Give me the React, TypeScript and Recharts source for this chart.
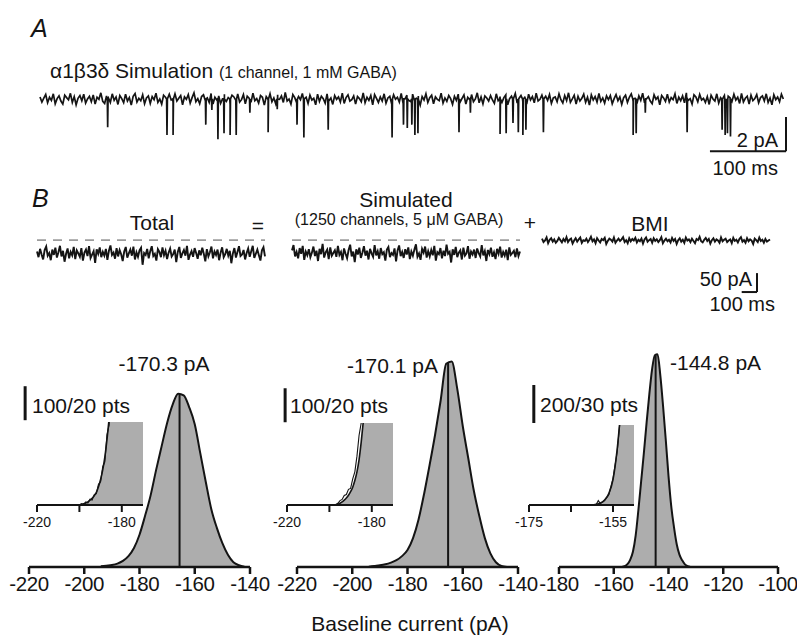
import React from "react";
import { ComposedChart, LineChart, Line, Area, XAxis, YAxis, ReferenceLine } from "recharts";

const FONT = '"Liberation Sans", Arial, Helvetica, sans-serif';
const INK = "#141414";
const FILL = "#adadad";

// ---------- panel A: single channel simulation (pA, 2.5 ms steps) ----------
const traceAStepMs = 2.5;
const traceANoise = [
  0.12, -0.18, 0.05, 0.26, -0.22, 0.1, -0.08, 0.3, -0.28, 0.02, 0.18, -0.12, -0.3, 0.22,
  0.08, -0.05, 0.33, -0.2, 0.14, -0.34, 0.04, 0.2, -0.1, 0.28, -0.24, 0.0, 0.16, -0.16,
  0.24, -0.3, 0.1, -0.02, 0.36, -0.14, -0.26, 0.18, 0.06, -0.2, 0.3, -0.08, 0.12, -0.32,
  0.2, 0.02, -0.22, 0.28, -0.12, 0.08, -0.36, 0.16, 0.32, -0.18, 0.04, -0.1, 0.24, -0.28,
  0.06, 0.18, -0.26, 0.14, -0.04, 0.34, -0.2, 0.0, -0.3, 0.22, 0.1, -0.14, 0.28, -0.06,
  -0.22, 0.3, -0.12, 0.04, 0.2, -0.34, 0.12, -0.02, 0.26, -0.24, 0.08, 0.36, -0.16, 0.02,
  -0.28, 0.14, 0.24, -0.1, 0.06, -0.2, 0.32, -0.3, 0.1, -0.06, 0.18, -0.26, 0.0, 0.28,
  -0.14, 0.08, -0.32, 0.22, 0.12, -0.08, 0.3, -0.18, -0.04, 0.26, -0.28, 0.16, 0.04, -0.2,
  0.34, -0.1, 0.02, -0.24, 0.2, 0.1, -0.36, 0.14, -0.06, 0.3, -0.16, 0.06, -0.28, 0.24,
  -0.02, 0.18, -0.2, 0.38, -0.12, 0.0, -0.3, 0.26, 0.08, -0.22, 0.14, -0.04, 0.32, -0.18,
  0.1, -0.26, 0.22, -0.06, 0.04, -0.34, 0.28, -0.14, 0.16, 0.02, -0.24, 0.3, -0.1, 0.06,
  -0.32, 0.2, -0.02, 0.12, -0.18, 0.34, -0.26, 0.08, 0.24, -0.12, -0.04, 0.18, -0.3, 0.14,
  0.02, -0.16, 0.36, -0.22, 0.1, -0.08, 0.2, -0.34, 0.26, 0.04, -0.2, 0.12, -0.12, 0.3,
  -0.24, 0.06, 0.16, -0.3, 0.24, -0.02, 0.1, -0.18, 0.32, -0.26, 0.0, 0.22, -0.08, -0.16,
  0.28, -0.12, 0.04, 0.18, -0.36, 0.14, -0.06, 0.3, -0.2, 0.08, 0.22, -0.28, 0.12, -0.02,
  -0.1, 0.34, -0.24, 0.06, -0.14, 0.2, 0.02, -0.32, 0.16, -0.08, 0.28, -0.18, 0.04, 0.24,
  -0.3, 0.1, -0.04, 0.26, -0.16, 0.0, 0.36, -0.22, 0.12, -0.28, 0.18, 0.06, -0.12, 0.2,
  -0.06, -0.26, 0.3, -0.1, 0.14, -0.2, 0.08, 0.24, -0.34, 0.02, 0.16, -0.14, 0.32, -0.24,
  0.04, 0.2, -0.18, 0.1, -0.3, 0.28, -0.06, 0.14, -0.22, 0.34, -0.12, -0.02, 0.22, -0.32,
  0.16, -0.08, 0.26, -0.26, 0.06, 0.12, -0.16, 0.3, -0.04, -0.24, 0.2, -0.1, 0.36, -0.2,
  0.0, 0.22, -0.3, 0.16, -0.12, 0.04, 0.28, -0.2, 0.1, -0.36, 0.24, -0.06, 0.14, -0.18,
  0.32, -0.14, 0.06, -0.24, 0.18, -0.04, 0.2, -0.28, 0.02, 0.26, -0.1, 0.12, -0.32, 0.08,
  0.22, -0.2, 0.1, 0.3, -0.16, 0.04, -0.26, 0.18, -0.08, 0.34, -0.22, 0.0, 0.14, -0.12,
  -0.28, 0.24, -0.02, 0.12, -0.34, 0.2, 0.06, -0.14, 0.28, -0.18, 0.08, -0.04, 0.3, -0.26,
  0.1, -0.1, 0.18, -0.22, 0.36, -0.08, 0.02, -0.3, 0.24, 0.12, -0.16, 0.26, -0.06, 0.04,
  -0.2, 0.14, -0.32, 0.22, 0.0, -0.12, 0.3, -0.24, 0.08, -0.02, 0.2, -0.28, 0.16, 0.06,
  -0.14, 0.28, -0.06, 0.1, -0.26, 0.32, -0.18, 0.04, 0.16, -0.3, 0.22, -0.1, 0.02, 0.26,
  -0.22, 0.08, 0.18, -0.12, 0.3, -0.2, 0.06, -0.34, 0.24, -0.04, 0.12, -0.16, 0.28, 0.0,
];
// channel openings: time (ms) and amplitude (pA)
const openingTimes = [
  89, 167, 175, 218, 226, 234, 242, 250, 258, 276, 300, 312, 338, 347, 379, 463, 478, 483, 489,
  493, 497, 551, 566, 605, 613, 622, 629, 635, 639, 662, 780, 784, 796, 851, 897, 901, 904, 908,
];
const openingAmps = [
  1.65, 2.1, 2.1, 1.5, 0.65, 2.35, 2.0, 2.1, 2.1, 0.8, 1.95, 0.6, 1.5, 2.25, 1.8, 2.25, 1.5, 1.7, 1.5,
  2.1, 2.0, 1.95, 0.8, 2.05, 2.0, 1.4, 1.95, 2.1, 1.8, 1.95, 2.1, 2.0, 0.8, 1.95, 1.8, 2.1, 2.0, 2.2,
];

// ---------- panel B: whole-cell traces (pA, 10 ms steps) ----------
const traceBStepMs = 10;
const bmiLevel = -145;
const totalTrace = [
  -175, -190, -168, -183, -196, -171, -162, -186, -179, -198, -170, -184, -165, -191, -177,
  -160, -188, -173, -202, -181, -167, -193, -176, -185, -163, -195, -172, -180, -189, -166,
  -199, -178, -170, -187, -161, -192, -183, -174, -205, -169, -181, -164, -190, -176, -186,
  -168, -197, -173, -159, -184, -178, -194, -166, -188, -171, -182, -200, -175, -163, -191,
  -180, -170, -186, -162, -196, -177, -189, -172, -165, -210, -179, -184, -168, -193, -174,
  -161, -187, -181, -199, -169, -176, -190, -164, -185, -173, -195, -178, -167, -188, -182,
  -170, -203, -176, -163, -192, -180, -171, -186, -160, -197, -183, -174, -189, -166, -179,
  -194, -172, -185, -165, -181, -201, -169, -188, -177, -162, -193, -175, -184, -170, -198,
  -178, -164, -190, -182, -168, -186, -173, -206, -180, -166, -191, -176, -161, -187, -183,
  -171, -196, -179, -167, -189, -174, -160, -192, -181, -170, -185, -199, -172, -164, -188,
];
const simulatedTrace = [
  -172, -158, -188, -176, -193, -166, -181, -160, -197, -175, -185, -169, -190, -178, -162,
  -187, -173, -200, -168, -182, -155, -191, -177, -170, -195, -164, -186, -179, -172, -189,
  -160, -184, -176, -198, -167, -181, -193, -171, -157, -188, -175, -203, -169, -183, -165,
  -192, -178, -161, -186, -173, -196, -168, -180, -189, -158, -185, -174, -194, -166, -182,
  -177, -199, -170, -163, -190, -179, -184, -167, -201, -172, -159, -187, -176, -192, -169,
  -183, -164, -195, -175, -186, -170, -156, -189, -180, -197, -168, -178, -162, -191, -174,
  -188, -171, -185, -160, -199, -177, -182, -166, -193, -173, -187, -157, -181, -176, -204,
  -169, -184, -163, -190, -178, -172, -196, -165, -186, -180, -161, -194, -175, -183, -170,
  -192, -167, -179, -188, -158, -185, -174, -200, -171, -182, -165, -189, -177, -195, -168,
  -181, -162, -191, -176, -186, -170, -198, -164, -184, -179, -173, -190, -167, -187, -175,
];
const bmiTrace = [
  -141, -150, -146, -138, -153, -144, -140, -149, -143, -152, -147, -139, -145, -151, -142,
  -148, -137, -150, -144, -141, -154, -146, -140, -149, -143, -138, -152, -145, -147, -141,
  -150, -144, -136, -148, -143, -153, -140, -146, -151, -142, -145, -139, -155, -147, -141,
  -144, -149, -138, -152, -146, -141, -147, -143, -137, -150, -145, -153, -140, -148, -142,
  -146, -139, -151, -144, -148, -141, -154, -143, -138, -149, -145, -142, -152, -140, -147,
  -143, -150, -145, -137, -153, -146, -141, -148, -144, -151, -139, -147, -142, -155, -145,
  -140, -149, -144, -152, -138, -146, -143, -150, -141, -147, -153, -142, -145, -136, -148,
  -151, -144, -139, -147, -142, -154, -145, -140, -149, -143, -146, -152, -138, -148, -144,
  -141, -150, -146, -143, -153, -139, -147, -144, -151, -142, -137, -149, -145, -152, -140,
  -148, -143, -146, -155, -141, -145, -150, -138, -147, -144, -152, -142, -149, -146, -143,
];

// ---------- all-points histograms (baseline current, pA) ----------
const hist1Bins = [-194, -192, -190, -188, -186, -184, -182, -180, -178, -176, -174, -172, -170, -168, -166, -164, -162, -160, -158, -156, -154, -152, -150, -148, -146, -144, -142];
const hist1Counts = [2, 4, 6, 10, 18, 32, 56, 95, 150, 210, 285, 355, 424, 478, 510, 505, 470, 420, 335, 250, 170, 115, 70, 36, 14, 5, 1];
const hist2Bins = [-194, -192, -190, -188, -186, -184, -182, -180, -178, -176, -174, -172, -170, -168, -166, -164, -162, -160, -158, -156, -154, -152, -150, -148, -146, -144];
const hist2Counts = [1, 3, 5, 8, 13, 20, 32, 50, 85, 140, 215, 300, 390, 490, 598, 605, 525, 415, 320, 225, 150, 85, 40, 14, 3, 0];
const hist3Bins = [-157, -156, -155, -154, -153, -152, -151, -150, -149, -148, -147, -146, -145, -144, -143, -142, -141, -140, -139, -138, -137, -136, -135, -134, -133, -132];
const hist3Counts = [0, 4, 15, 38, 80, 165, 300, 450, 600, 760, 910, 1040, 1115, 1120, 1010, 850, 670, 480, 320, 210, 120, 65, 35, 14, 4, 0];
const histMeans = [-165.5, -165.3, -144.7];
const peakLabels = ["-170.3 pA", "-170.1 pA", "-144.8 pA"];

// insets: rising tail, fit and data
const inset1Pa = [-220, -200, -199, -198, -197, -196, -195, -194, -193, -192, -191, -190, -189, -188, -187, -186, -185, -184, -182, -178, -174, -170];
const inset1Fit = [0, 0, 0.3, 0.8, 1.3, 2, 3, 4.2, 5.8, 8, 11.5, 16, 22, 30, 41, 54, 70, 88, 130, 230, 380, 520];
const inset1Data = [0, 0, 0.8, 0.2, 1.9, 1.2, 3.6, 3.1, 6.5, 7.2, 13, 14.5, 24, 27, 44, 50, 73, 85, 135, 240, 370, 530];
const inset2Pa = [-220, -197, -196, -195, -194, -193, -192, -191, -190, -189, -188, -187, -186, -185, -184, -183, -180, -175, -170];
const inset2Fit = [0, 0, 0.4, 1, 1.8, 2.8, 4, 5.6, 7.6, 10.2, 14, 19, 26, 36, 48, 62, 120, 260, 400];
const inset2Data = [0, 0.3, 1, 2.5, 3.2, 5.5, 6, 9, 9.5, 15, 19, 28, 40, 47, 60, 75, 130, 270, 410];
const inset3Pa = [-175, -160, -159, -158.5, -158, -157, -156, -155, -154, -153, -152, -150];
const inset3Fit = [0, 0, 0.5, 1, 1.5, 4, 9, 20, 44, 80, 120, 260];
const inset3Data = [0, 0, 0.3, 3.5, 1.2, 3.5, 8, 21, 42, 78, 125, 255];

const traceAData = (() => {
  const pts = traceANoise.map((v, i) => ({ t: i * traceAStepMs, i: v }));
  openingTimes.forEach((t, k) => {
    pts.push({ t: t - 0.5, i: 0 }, { t, i: -openingAmps[k] }, { t: t + 0.5, i: 0 });
  });
  return pts.sort((a, b) => a.t - b.t);
})();

const toSeries = (arr: number[]) => arr.map((v, i) => ({ t: i * traceBStepMs, i: v }));
const zipHist = (bins: number[], counts: number[]) => bins.map((b, k) => ({ x: b, n: counts[k] }));
const zipInset = (pa: number[], fit: number[], dat: number[]) =>
  pa.map((x, k) => ({ x, fit: fit[k], dat: dat[k] }));

type LabelProps = {
  x: number;
  y: number;
  size?: number;
  anchor?: "start" | "middle" | "end";
  italic?: boolean;
  children: React.ReactNode;
};

function Label({ x, y, size = 21, anchor = "start", italic, children }: LabelProps) {
  const tx = anchor === "middle" ? "-50%" : anchor === "end" ? "-100%" : "0";
  return (
    <div
      style={{
        position: "absolute",
        left: x,
        top: y,
        transform: `translate(${tx}, -50%)`,
        fontFamily: FONT,
        fontSize: size,
        fontStyle: italic ? "italic" : "normal",
        lineHeight: 1,
        whiteSpace: "nowrap",
        color: INK,
      }}
    >
      {children}
    </div>
  );
}

const PAD = 4;

type TraceProps = {
  data: { t: number; i: number }[];
  left: number;
  top: number;
  width: number;
  height: number;
  xMax: number;
  yDomain: [number, number];
  stroke?: number;
  children?: React.ReactNode;
};

function Trace({ data, left, top, width, height, xMax, yDomain, stroke = 1.2, children }: TraceProps) {
  return (
    <div style={{ position: "absolute", left: left - PAD, top: top - PAD }}>
      <LineChart
        width={width + 2 * PAD}
        height={height + 2 * PAD}
        data={data}
        margin={{ top: PAD, right: PAD, bottom: PAD, left: PAD }}
      >
        <XAxis type="number" dataKey="t" domain={[0, xMax]} hide />
        <YAxis type="number" domain={yDomain} hide allowDataOverflow />
        {children}
        <Line
          type="linear"
          dataKey="i"
          stroke={INK}
          strokeWidth={stroke}
          strokeLinejoin="miter"
          dot={false}
          isAnimationActive={false}
        />
      </LineChart>
    </div>
  );
}

type HistProps = {
  plotLeft: number;
  plotRight: number;
  domain: [number, number];
  ticks: number[];
  data: { x: number; n: number }[];
  yMax: number;
  mean: number;
  bar: { x: number; y0: number; y1: number };
};

function Histogram({ plotLeft, plotRight, domain, ticks, data, yMax, mean, bar }: HistProps) {
  const mL = 36, mR = 26, mT = 6, axisH = 36;
  const plotTop = 340, axisY = 567;
  const peak = Math.max(...data.map((d) => d.n));
  return (
    <div style={{ position: "absolute", left: plotLeft - mL, top: plotTop - mT }}>
      <ComposedChart
        width={plotRight - plotLeft + mL + mR}
        height={axisY - plotTop + mT + axisH}
        data={data}
        margin={{ top: mT, right: mR, bottom: 0, left: mL }}
      >
        <XAxis
          type="number"
          dataKey="x"
          domain={domain}
          ticks={ticks}
          height={axisH}
          tickSize={7}
          tickMargin={2}
          axisLine={{ stroke: INK, strokeWidth: 2.5 }}
          tickLine={{ stroke: INK, strokeWidth: 2.5 }}
          tick={{ fill: INK, fontSize: 20.5, fontFamily: FONT, letterSpacing: -0.4 }}
          interval={0}
        />
        <YAxis hide domain={[0, yMax]} />
        <Area
          type="monotone"
          dataKey="n"
          stroke={INK}
          strokeWidth={2}
          fill={FILL}
          fillOpacity={1}
          isAnimationActive={false}
        />
        <ReferenceLine
          segment={[{ x: mean, y: 0 }, { x: mean, y: peak * 0.995 }]}
          stroke={INK}
          strokeWidth={2}
          ifOverflow="visible"
        />
        <ReferenceLine
          segment={[{ x: bar.x, y: bar.y0 }, { x: bar.x, y: bar.y1 }]}
          stroke={INK}
          strokeWidth={3}
          ifOverflow="visible"
        />
      </ComposedChart>
    </div>
  );
}

type InsetProps = {
  plotLeft: number;
  plotRight: number;
  plotTop: number;
  domain: [number, number];
  ticks: number[];
  labelled: number[];
  yMax: number;
  data: { x: number; fit: number; dat: number }[];
};

function Inset({ plotLeft, plotRight, plotTop, domain, ticks, labelled, yMax, data }: InsetProps) {
  const mL = 20, mR = 6, mT = 2, axisH = 26;
  const axisY = 505;
  return (
    <div style={{ position: "absolute", left: plotLeft - mL, top: plotTop - mT }}>
      <ComposedChart
        width={plotRight - plotLeft + mL + mR}
        height={axisY - plotTop + mT + axisH}
        data={data}
        margin={{ top: mT, right: mR, bottom: 0, left: mL }}
      >
        <XAxis
          type="number"
          dataKey="x"
          domain={domain}
          ticks={ticks}
          height={axisH}
          tickSize={7}
          tickMargin={5}
          interval={0}
          allowDataOverflow
          axisLine={{ stroke: INK, strokeWidth: 2 }}
          tickLine={{ stroke: INK, strokeWidth: 2 }}
          tick={{ fill: INK, fontSize: 14, fontFamily: FONT }}
          tickFormatter={(v: number) => (labelled.includes(v) ? String(v) : "")}
        />
        <YAxis hide domain={[0, yMax]} allowDataOverflow />
        <Area
          type="monotone"
          dataKey="fit"
          stroke={INK}
          strokeWidth={1.6}
          fill={FILL}
          fillOpacity={1}
          isAnimationActive={false}
        />
        <Line
          type="linear"
          dataKey="dat"
          stroke={INK}
          strokeWidth={1.1}
          dot={false}
          isAnimationActive={false}
        />
      </ComposedChart>
    </div>
  );
}

export default function App() {
  const bDomain: [number, number] = [-303, -105];
  const bXMax = (totalTrace.length - 1) * traceBStepMs;
  return (
    <div
      style={{
        position: "absolute",
        left: 0,
        top: 0,
        width: 797,
        height: 635,
        background: "#fff",
        overflow: "hidden",
      }}
    >
      {/* ---- A ---- */}
      <Label x={31} y={28} size={25} italic>A</Label>
      <Label x={50} y={70}>
        α1β3δ Simulation <span style={{ fontSize: 16 }}>(1 channel, 1 mM GABA)</span>
      </Label>
      <Trace
        data={traceAData}
        left={40}
        top={87}
        width={746}
        height={65}
        xMax={981}
        yDomain={[-3.1, 0.7]}
        stroke={1.7}
      >
        <ReferenceLine segment={[{ x: 881, y: -3.06 }, { x: 981, y: -3.06 }]} stroke={INK} strokeWidth={2} ifOverflow="visible" />
        <ReferenceLine segment={[{ x: 981, y: -3.06 }, { x: 981, y: -1.06 }]} stroke={INK} strokeWidth={2} ifOverflow="visible" />
      </Trace>
      <Label x={778} y={140} size={20} anchor="end">2 pA</Label>
      <Label x={778} y={168} size={20} anchor="end">100 ms</Label>

      {/* ---- B ---- */}
      <Label x={32} y={198} size={25} italic>B</Label>
      <Label x={152} y={222} anchor="middle">Total</Label>
      <Label x={258} y={225} anchor="middle">=</Label>
      <Label x={406} y={199} anchor="middle">Simulated</Label>
      <Label x={399} y={220} size={16} anchor="middle">(1250 channels, 5 μM GABA)</Label>
      <Label x={530} y={222} anchor="middle">+</Label>
      <Label x={650} y={223} anchor="middle">BMI</Label>

      <Trace data={toSeries(totalTrace)} left={37} top={225} width={228} height={75} xMax={bXMax} yDomain={bDomain} stroke={1.9}>
        <ReferenceLine y={bmiLevel} stroke="#9c9c9c" strokeWidth={1.6} strokeDasharray="9 7" ifOverflow="visible" />
      </Trace>
      <Trace data={toSeries(simulatedTrace)} left={292} top={225} width={228} height={75} xMax={bXMax} yDomain={bDomain} stroke={1.9}>
        <ReferenceLine y={bmiLevel} stroke="#9c9c9c" strokeWidth={1.6} strokeDasharray="9 7" ifOverflow="visible" />
      </Trace>
      <Trace data={toSeries(bmiTrace)} left={542} top={225} width={228} height={75} xMax={bXMax} yDomain={bDomain} stroke={1.9}>
        <ReferenceLine segment={[{ x: 1305, y: -282 }, { x: 1405, y: -282 }]} stroke={INK} strokeWidth={2} ifOverflow="visible" />
        <ReferenceLine segment={[{ x: 1405, y: -282 }, { x: 1405, y: -232 }]} stroke={INK} strokeWidth={2} ifOverflow="visible" />
      </Trace>
      <Label x={752} y={279} size={20} anchor="end">50 pA</Label>
      <Label x={775} y={304} size={20} anchor="end">100 ms</Label>

      {/* ---- histograms ---- */}
      <Histogram
        plotLeft={29}
        plotRight={250}
        domain={[-220, -140]}
        ticks={[-220, -200, -180, -160, -140]}
        data={zipHist(hist1Bins, hist1Counts)}
        yMax={668}
        mean={histMeans[0]}
        bar={{ x: -221.4, y0: 432, y1: 532 }}
      />
      <Histogram
        plotLeft={297}
        plotRight={518}
        domain={[-220, -140]}
        ticks={[-220, -200, -180, -160, -140]}
        data={zipHist(hist2Bins, hist2Counts)}
        yMax={668}
        mean={histMeans[1]}
        bar={{ x: -224.3, y0: 426, y1: 526 }}
      />
      <Histogram
        plotLeft={559}
        plotRight={778}
        domain={[-180, -100]}
        ticks={[-180, -160, -140, -120, -100]}
        data={zipHist(hist3Bins, hist3Counts)}
        yMax={1195}
        mean={histMeans[2]}
        bar={{ x: -189.2, y0: 758, y1: 958 }}
      />

      <Inset
        plotLeft={37}
        plotRight={143}
        plotTop={422}
        domain={[-220, -170]}
        ticks={[-220, -200, -180]}
        labelled={[-220, -180]}
        yMax={52}
        data={zipInset(inset1Pa, inset1Fit, inset1Data)}
      />
      <Inset
        plotLeft={287}
        plotRight={393}
        plotTop={423}
        domain={[-220, -170]}
        ticks={[-220, -200, -180]}
        labelled={[-220, -180]}
        yMax={47}
        data={zipInset(inset2Pa, inset2Fit, inset2Data)}
      />
      <Inset
        plotLeft={529}
        plotRight={634}
        plotTop={425}
        domain={[-175, -150]}
        ticks={[-175, -165, -155]}
        labelled={[-175, -155]}
        yMax={63}
        data={zipInset(inset3Pa, inset3Fit, inset3Data)}
      />

      <Label x={164} y={363} anchor="middle">{peakLabels[0]}</Label>
      <Label x={438} y={365} anchor="end">{peakLabels[1]}</Label>
      <Label x={670} y={362}>{peakLabels[2]}</Label>
      <Label x={32} y={405}>100/20 pts</Label>
      <Label x={290} y={405}>100/20 pts</Label>
      <Label x={540} y={404}>200/30 pts</Label>
      <Label x={410} y={623} anchor="middle">Baseline current (pA)</Label>
    </div>
  );
}
